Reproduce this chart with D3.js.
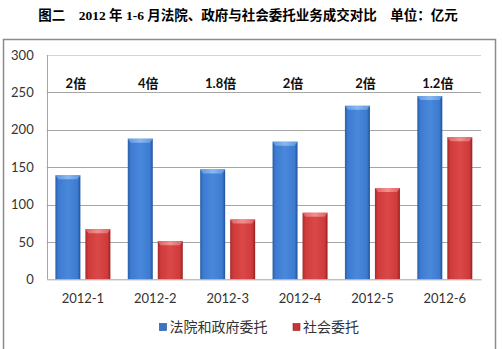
<!DOCTYPE html>
<html>
<head>
<meta charset="utf-8">
<script src="https://cdn.jsdelivr.net/npm/d3@7"></script>
<style>
  html, body { margin: 0; padding: 0; background: #fff; }
  svg { display: block; }
</style>
</head>
<body>
<svg id="chart" width="502" height="349"></svg>
<script>
// Monthly transaction volume (亿元), Jan–Jun 2012
const months = ["2012-1", "2012-2", "2012-3", "2012-4", "2012-5", "2012-6"];
const courtGov = [139, 188, 147, 184, 232, 245];   // 法院和政府委托
const social = [67, 51, 80, 89, 122, 190];         // 社会委托
const ratioLabels = ["2倍", "4倍", "1.8倍", "2倍", "2倍", "1.2倍"];
const seriesNames = ["法院和政府委托", "社会委托"];
const yTicks = [0, 50, 100, 150, 200, 250, 300];

const svg = d3.select("#chart");
const W = 502, H = 349;
const plot = { left: 46.7, right: 481, top: 55, bottom: 279.3 };

const latin = "Lato, 'Open Sans', sans-serif";
const cjk = "'Noto Sans CJK SC', sans-serif";

// Title
svg.append("text")
  .attr("x", 248).attr("y", 20)
  .attr("text-anchor", "middle")
  .attr("font-family", "'Liberation Serif', " + cjk)
  .attr("font-weight", "bold")
  .attr("font-size", 13.5)
  .attr("fill", "#000")
  .text("图二　2012 年 1-6 月法院、政府与社会委托业务成交对比　单位：亿元");

// Outer chart frame (open at bottom)
svg.append("path")
  .attr("d", `M3.5,${H} V39.5 H495.5 V${H}`)
  .attr("fill", "none")
  .attr("stroke", "#8c8c8c")
  .attr("stroke-width", 1.5);

// Scales
const x0 = d3.scaleBand().domain(months).range([plot.left, plot.right]).paddingInner(0).paddingOuter(0);
const y = d3.scaleLinear().domain([0, 300]).range([plot.bottom, plot.top]);

const barW = 25, gap = 5;

// Gridlines
const grid = svg.append("g");
grid.selectAll("line").data(yTicks.filter(t => t > 0)).join("line")
  .attr("x1", plot.left).attr("x2", plot.right)
  .attr("y1", d => Math.round(y(d)) + 0.5).attr("y2", d => Math.round(y(d)) + 0.5)
  .attr("stroke", d => d === 300 ? "#d4d4d4" : "#a6a6a6")
  .attr("stroke-width", 1);

// Y axis
const yAxis = d3.axisLeft(y).tickValues(yTicks).tickSize(0).tickPadding(13);
const yg = svg.append("g").attr("transform", `translate(${plot.left},0)`).call(yAxis);
yg.select(".domain").remove();
yg.selectAll("text")
  .attr("font-family", latin).attr("font-size", 13).attr("fill", "#333");
svg.append("line")
  .attr("x1", Math.round(plot.left) + 0.5).attr("x2", Math.round(plot.left) + 0.5)
  .attr("y1", plot.top).attr("y2", plot.bottom)
  .attr("stroke", "#a6a6a6");

// Gradients for bevelled bars
const defs = svg.append("defs");
function grad(id, stops) {
  const g = defs.append("linearGradient").attr("id", id)
    .attr("x1", "0").attr("x2", "1").attr("y1", "0").attr("y2", "0");
  stops.forEach(([o, c]) => g.append("stop").attr("offset", o).attr("stop-color", c));
}
grad("gBlue", [[0, "#2a5ea8"], [0.12, "#3d7bd0"], [0.5, "#4a88dc"], [0.88, "#3d7bd0"], [1, "#22519a"]]);
grad("gRed", [[0, "#a82a2a"], [0.12, "#cf3b3b"], [0.5, "#db4848"], [0.88, "#cf3b3b"], [1, "#962020"]]);
grad("gBlueTop", [[0, "#5a97e0"], [0.5, "#8ab8f0"], [1, "#5a97e0"]]);
grad("gRedTop", [[0, "#e06060"], [0.5, "#f09090"], [1, "#e06060"]]);

const series = [
  { name: seriesNames[0], values: courtGov, fill: "url(#gBlue)", top: "url(#gBlueTop)", edge: "#1f4d8f", key: "#3a74c4" },
  { name: seriesNames[1], values: social, fill: "url(#gRed)", top: "url(#gRedTop)", edge: "#8f1f1f", key: "#c83434" }
];

const bars = svg.append("g");
series.forEach((s, si) => {
  months.forEach((m, i) => {
    const cx = x0(m) + x0.bandwidth() / 2;
    const bx = si === 0 ? cx - gap / 2 - barW : cx + gap / 2;
    const by = y(s.values[i]);
    const bh = plot.bottom - by;
    bars.append("rect")
      .attr("x", bx).attr("y", by).attr("width", barW).attr("height", bh)
      .attr("fill", s.fill);
    // top bevel
    bars.append("path")
      .attr("d", `M${bx},${by} H${bx + barW} L${bx + barW - 3},${by + 4} H${bx + 3} Z`)
      .attr("fill", s.top);
  });
});

// Ratio labels
svg.append("g").selectAll("text").data(ratioLabels).join("text")
  .attr("x", (d, i) => x0(months[i]) + x0.bandwidth() / 2 - 7)
  .attr("y", 88)
  .attr("text-anchor", "middle")
  .attr("font-family", latin + ", " + cjk)
  .attr("font-weight", "bold")
  .attr("font-size", 13)
  .attr("fill", "#111")
  .text(d => d);

// X axis
const xAxis = d3.axisBottom(x0).tickSize(0).tickPadding(14);
const xg = svg.append("g").attr("transform", `translate(0,${plot.bottom})`).call(xAxis);
xg.select(".domain").attr("stroke", "#a6a6a6");
xg.selectAll("text")
  .attr("font-family", latin).attr("font-size", 13).attr("fill", "#333");

// Legend
const legend = svg.append("g");
const legendItems = [
  { x: 159.5, s: series[0] },
  { x: 293, s: series[1] }
];
legendItems.forEach(({ x, s }) => {
  legend.append("rect")
    .attr("x", x).attr("y", 323.5).attr("width", 7).attr("height", 7)
    .attr("fill", s.key).attr("stroke", s.edge).attr("stroke-width", 0.6);
  legend.append("text")
    .attr("x", x + 10).attr("y", 332)
    .attr("font-family", cjk).attr("font-size", 14).attr("fill", "#333")
    .text(s.name);
});
</script>
</body>
</html>
